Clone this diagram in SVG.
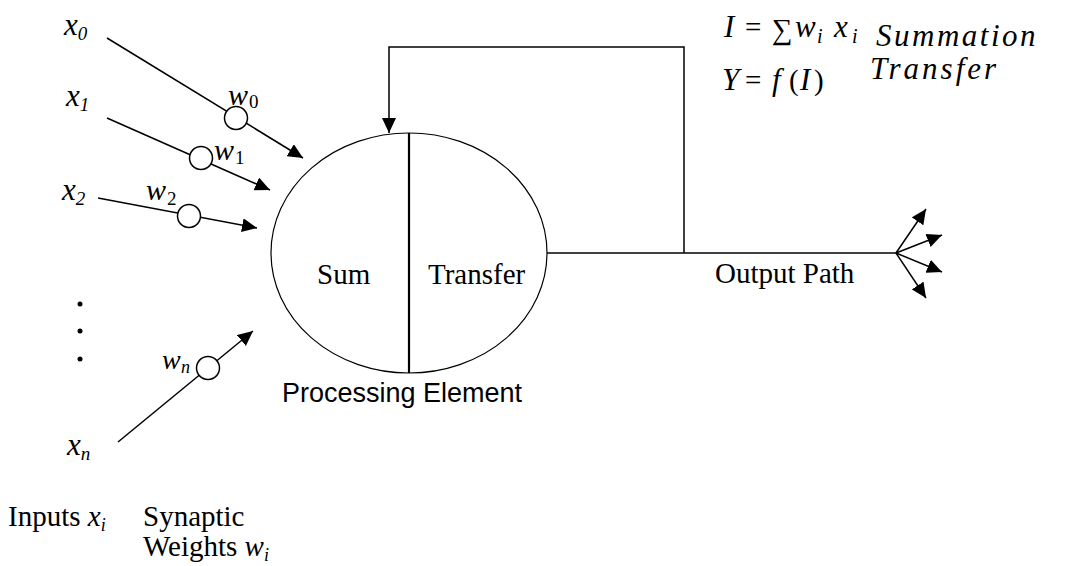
<svg xmlns="http://www.w3.org/2000/svg" width="1066" height="566" viewBox="0 0 1066 566">
<defs>
<marker id="ah" markerUnits="userSpaceOnUse" markerWidth="16" markerHeight="14" refX="15" refY="7" orient="auto">
<path d="M0,0 L15,7 L0,14 z" fill="#000"/>
</marker>
<style>
.ln{stroke:#000;stroke-width:1.5;fill:none}
.tm{font-family:"Liberation Serif",serif;font-size:29px;fill:#000}
.it{font-family:"Liberation Serif",serif;font-style:italic;fill:#000}
.sb{font-family:"Liberation Serif",serif;font-size:19px;fill:#000}
.wc{fill:#fff;stroke:#000;stroke-width:1.5}
</style>
</defs>
<rect width="1066" height="566" fill="#fff"/>
<g id="connectors">
<line class="ln" x1="107" y1="38" x2="303" y2="158" marker-end="url(#ah)"/>
<line class="ln" x1="107" y1="118" x2="270" y2="190" marker-end="url(#ah)"/>
<line class="ln" x1="98" y1="198" x2="257" y2="228" marker-end="url(#ah)"/>
<line class="ln" x1="118" y1="442" x2="253" y2="331" marker-end="url(#ah)"/>
<path class="ln" d="M547,253 H896"/>
<path class="ln" d="M684,253 V47 H389 V133" marker-end="url(#ah)"/>
<line class="ln" x1="896" y1="253" x2="926" y2="209" marker-end="url(#ah)"/>
<line class="ln" x1="896" y1="253" x2="942" y2="235" marker-end="url(#ah)"/>
<line class="ln" x1="896" y1="253" x2="942" y2="272" marker-end="url(#ah)"/>
<line class="ln" x1="896" y1="253" x2="926" y2="298" marker-end="url(#ah)"/>
</g>
<g id="w0"><circle class="wc" cx="236" cy="118" r="11.5"/>
<text class="it" x="228" y="105" font-size="30">w</text><text class="sb" x="249" y="108">0</text></g>
<g id="w1"><circle class="wc" cx="201" cy="158" r="11.5"/>
<text class="it" x="214" y="160" font-size="30">w</text><text class="sb" x="235" y="164">1</text></g>
<g id="w2"><circle class="wc" cx="189" cy="216" r="11.5"/>
<text class="it" x="146" y="200" font-size="30">w</text><text class="sb" x="167" y="205">2</text></g>
<g id="wn"><circle class="wc" cx="208" cy="368" r="11.5"/>
<text class="it" x="162" y="369" font-size="28">w</text><text class="it" x="181" y="373" font-size="18">n</text></g>
<g id="inputs">
<text class="it" x="64" y="35" font-size="31">x<tspan font-size="19" dy="5">0</tspan></text>
<text class="it" x="66" y="106" font-size="31">x<tspan font-size="19" dy="5">1</tspan></text>
<text class="it" x="62" y="200" font-size="31">x<tspan font-size="19" dy="5">2</tspan></text>
<text class="it" x="67" y="455" font-size="31">x<tspan font-size="19" dy="5">n</tspan></text>
<circle cx="80" cy="304" r="2.5" fill="#000"/>
<circle cx="80" cy="331" r="2.5" fill="#000"/>
<circle cx="80" cy="359" r="2.5" fill="#000"/>
</g>
<g id="processing-element">
<ellipse cx="409" cy="253" rx="138" ry="120" fill="none" stroke="#000" stroke-width="1.2"/>
<line x1="409" y1="133" x2="409" y2="373" stroke="#000" stroke-width="2.2"/>
<text class="tm" x="317" y="284">Sum</text>
<text class="tm" x="428" y="284">Transfer</text>
<text x="282" y="402" font-family="'Liberation Sans',sans-serif" font-size="27" fill="#000">Processing Element</text>
</g>
<g id="output">
<text class="tm" x="715" y="283">Output Path</text>
</g>
<g id="formulas">
<text class="it" font-size="31" x="724" y="37">I</text>
<text class="tm" x="745" y="37">=</text>
<text class="tm" x="772" y="39" font-size="34">∑</text>
<text class="it" font-size="31" x="795" y="37">w</text>
<text class="it" font-size="20" x="817" y="43">i</text>
<text class="it" font-size="31" x="834" y="37">x</text>
<text class="it" font-size="20" x="852" y="43">i</text>
<text class="it" font-size="31" x="722" y="90">Y</text>
<text class="tm" x="745" y="90">=</text>
<text class="it" font-size="31" x="772" y="90">f</text>
<text class="tm" x="789" y="90">(</text>
<text class="it" font-size="31" x="800" y="90">I</text>
<text class="tm" x="814" y="90">)</text>
<text class="it" font-size="31" x="876" y="46" letter-spacing="2.5">Summation</text>
<text class="it" font-size="31" x="870" y="79" letter-spacing="3">Transfer</text>
</g>
<g id="legend">
<text class="tm" x="8" y="526">Inputs <tspan font-style="italic">x</tspan><tspan font-size="18" font-style="italic" dy="5">i</tspan></text>
<text class="tm" x="143" y="526">Synaptic</text>
<text class="tm" x="143" y="556">Weights <tspan font-style="italic">w</tspan><tspan font-size="18" font-style="italic" dy="5">i</tspan></text>
</g>
</svg>
